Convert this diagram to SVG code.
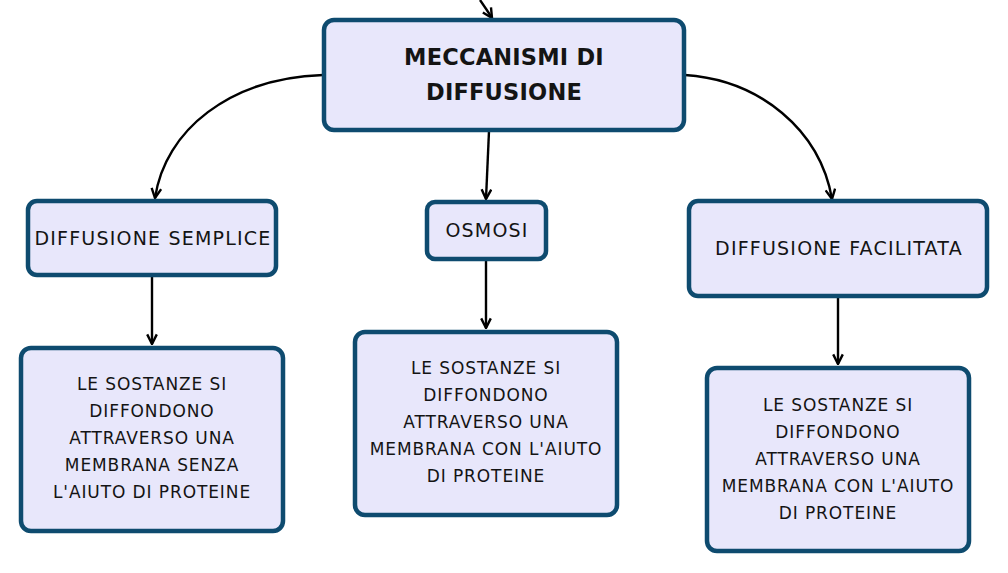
<svg xmlns="http://www.w3.org/2000/svg" width="1008" height="573" viewBox="0 0 1008 573">
<style>
.box{fill:#e8e7fb;stroke:#0e4b6f;stroke-width:4.5}
.t{font-family:"DejaVu Sans","Open Sans",sans-serif;fill:#141414;text-anchor:middle}
.m{font-size:19px;letter-spacing:1.2px}
.s{font-size:17px;letter-spacing:0.9px}
.b{font-size:22.5px;font-weight:bold;letter-spacing:0.2px}
.c{fill:none;stroke:#000;stroke-width:2.4}
</style>
<defs>
<marker id="ar" viewBox="0 0 10 10" refX="9" refY="5" markerWidth="5" markerHeight="5" orient="auto" markerUnits="strokeWidth">
<path d="M1,1 L9,5 L1,9" fill="none" stroke="#000" stroke-width="2"/>
</marker>
</defs>
<rect width="1008" height="573" fill="#fff"/>
<g id="connectors">
<path class="c" d="M480,0 Q487,10 492,18" marker-end="url(#ar)"/>
<path class="c" d="M323,75 C230,78 165,130 155,198" marker-end="url(#ar)"/>
<path class="c" d="M685,75 C760,80 820,130 832,199" marker-end="url(#ar)"/>
<path class="c" d="M489,131 L486,199" marker-end="url(#ar)"/>
<path class="c" d="M152,277 L152,344" marker-end="url(#ar)"/>
<path class="c" d="M486,261 L486,328" marker-end="url(#ar)"/>
<path class="c" d="M838,297 L838,364" marker-end="url(#ar)"/>
</g>
<g id="main">
<rect class="box" x="324" y="20" width="360" height="110" rx="10"/>
<text class="t b" x="504" y="65">MECCANISMI DI</text>
<text class="t b" x="504" y="100">DIFFUSIONE</text>
</g>
<g id="semplice">
<rect class="box" x="28" y="201" width="248" height="74" rx="9"/>
<text class="t m" x="153" y="245">DIFFUSIONE SEMPLICE</text>
</g>
<g id="osmosi">
<rect class="box" x="427" y="202" width="119" height="57" rx="8"/>
<text class="t m" x="487" y="237">OSMOSI</text>
</g>
<g id="facilitata">
<rect class="box" x="689" y="201" width="298" height="95" rx="9"/>
<text class="t m" x="839" y="255">DIFFUSIONE FACILITATA</text>
</g>
<g id="desc1">
<rect class="box" x="21" y="348" width="262" height="183" rx="10"/>
<text class="t s" x="152" y="390">LE SOSTANZE SI</text>
<text class="t s" x="152" y="417">DIFFONDONO</text>
<text class="t s" x="152" y="444">ATTRAVERSO UNA</text>
<text class="t s" x="152" y="471">MEMBRANA SENZA</text>
<text class="t s" x="152" y="498">L'AIUTO DI PROTEINE</text>
</g>
<g id="desc2">
<rect class="box" x="355" y="332" width="262" height="183" rx="10"/>
<text class="t s" x="486" y="374">LE SOSTANZE SI</text>
<text class="t s" x="486" y="401">DIFFONDONO</text>
<text class="t s" x="486" y="428">ATTRAVERSO UNA</text>
<text class="t s" x="486" y="455">MEMBRANA CON L'AIUTO</text>
<text class="t s" x="486" y="482">DI PROTEINE</text>
</g>
<g id="desc3">
<rect class="box" x="707" y="368" width="262" height="183" rx="10"/>
<text class="t s" x="838" y="411">LE SOSTANZE SI</text>
<text class="t s" x="838" y="438">DIFFONDONO</text>
<text class="t s" x="838" y="465">ATTRAVERSO UNA</text>
<text class="t s" x="838" y="492">MEMBRANA CON L'AIUTO</text>
<text class="t s" x="838" y="519">DI PROTEINE</text>
</g>
</svg>
